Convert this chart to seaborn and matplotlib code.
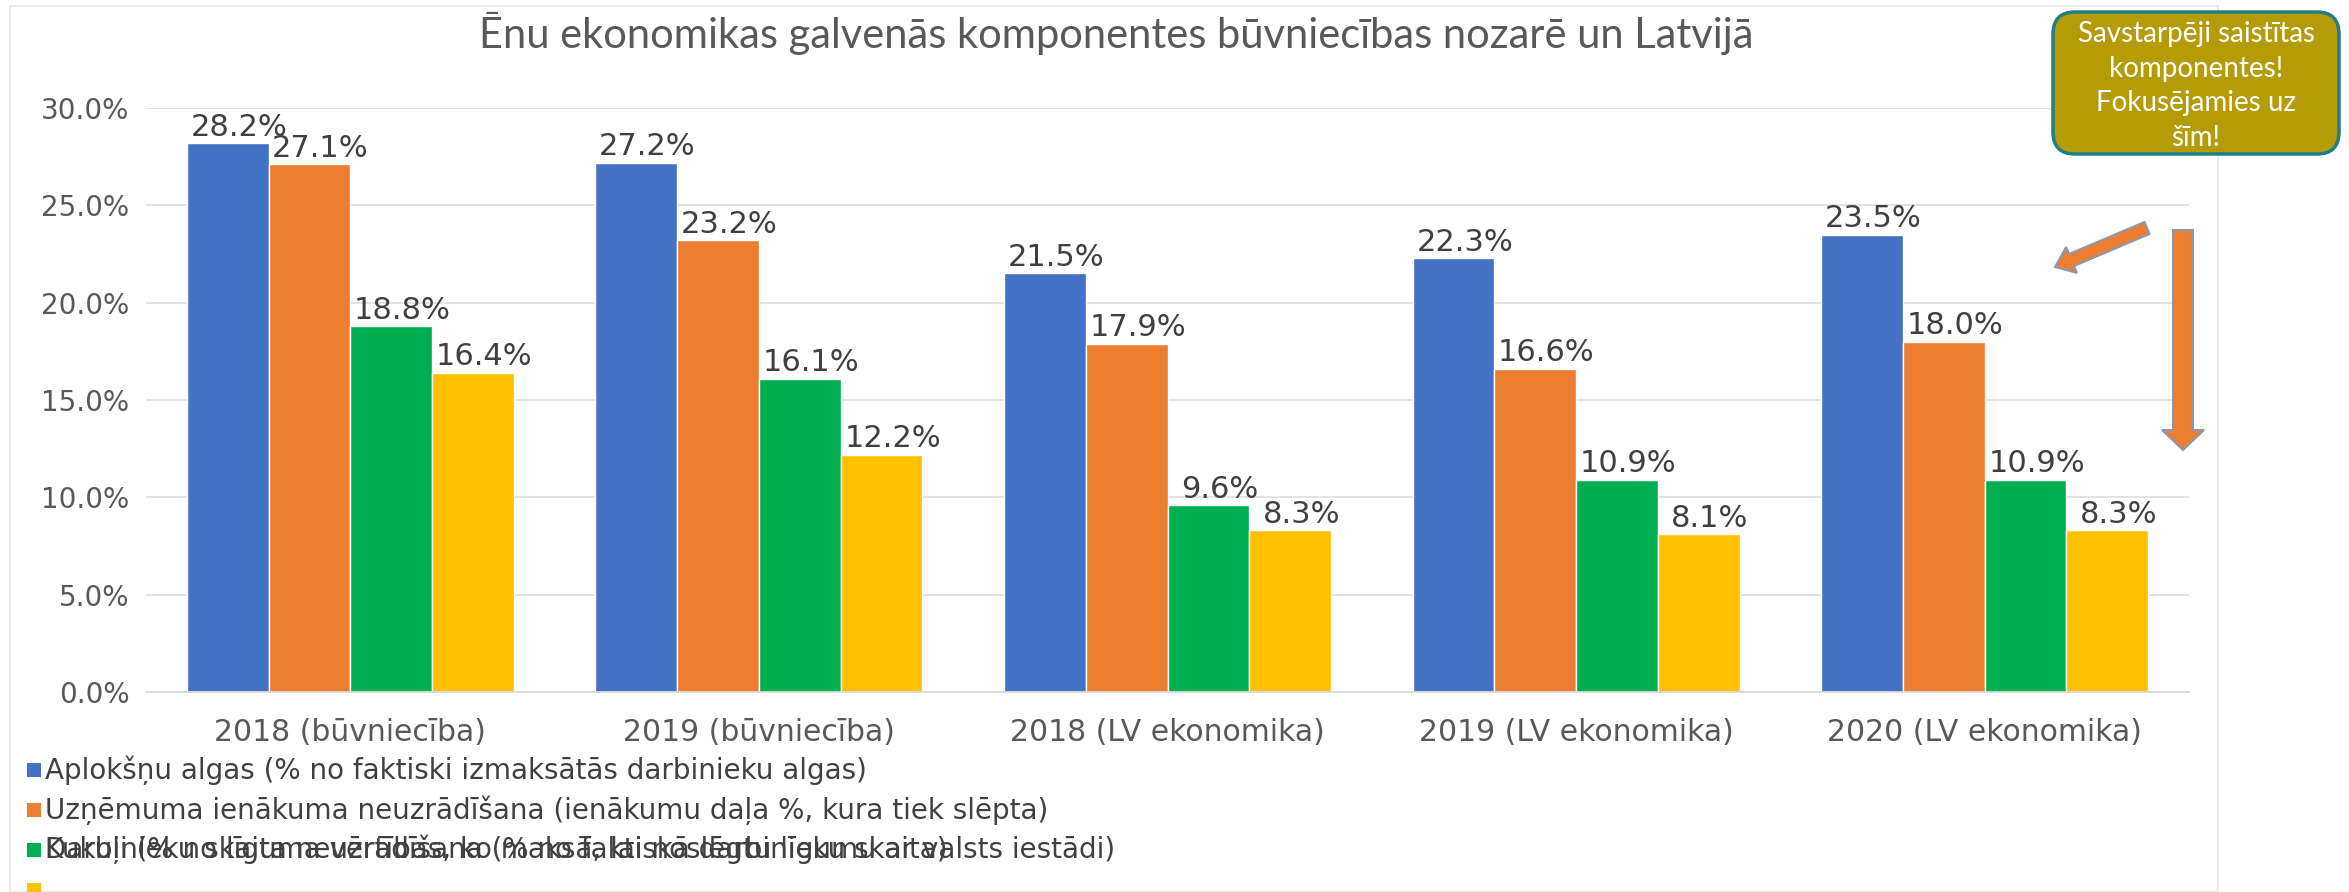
import matplotlib
matplotlib.use("Agg")
import matplotlib.pyplot as plt
import seaborn as sns
import pandas as pd
from matplotlib.patches import FancyBboxPatch, FancyArrow, Rectangle
from matplotlib.ticker import FuncFormatter, MultipleLocator

# ---------------- data ----------------
categories = ["2018 (būvniecība)", "2019 (būvniecība)", "2018 (LV ekonomika)",
              "2019 (LV ekonomika)", "2020 (LV ekonomika)"]
series_names = [
    "Aplokšņu algas (% no faktiski izmaksātās darbinieku algas)",
    "Uzņēmuma ienākuma neuzrādīšana (ienākumu daļa %, kura tiek slēpta)",
    "Darbinieku skaita neuzrādīšana (% no faktiskā darbinieku skaita)",
    "Kukuļi (% no līguma vērtības, ko maksā, lai noslēgtu līgumu ar valsts iestādi)",
]
envelope_wages = [28.2, 27.2, 21.5, 22.3, 23.5]
income_underreporting = [27.1, 23.2, 17.9, 16.6, 18.0]
employees_underreporting = [18.8, 16.1, 9.6, 10.9, 10.9]
fourth_component = [16.4, 12.2, 8.3, 8.1, 8.3]
colors = ["#4472C4", "#ED7D31", "#00B050", "#FFC000"]
title = "Ēnu ekonomikas galvenās komponentes būvniecības nozarē un Latvijā"
note_text = "Savstarpēji saistītas\nkomponentes!\nFokusējamies uz\nšīm!"

rows = []
for vals, name in zip([envelope_wages, income_underreporting,
                       employees_underreporting, fourth_component], series_names):
    for c, v in zip(categories, vals):
        rows.append({"Kategorija": c, "Komponente": name, "Vērtība": v})
df = pd.DataFrame(rows)

# ---------------- style ----------------
sns.set_theme(style="white")
plt.rcParams["font.family"] = ["DejaVu Sans"]

W, H = 2349, 892
fig = plt.figure(figsize=(W / 100, H / 100), dpi=100)
ax = fig.add_axes([146 / W, 1 - 692 / H, (2189 - 146) / W, (692 - 108) / H])

sns.barplot(data=df, x="Kategorija", y="Vērtība", hue="Komponente",
            hue_order=series_names, palette=colors, order=categories,
            width=0.8, gap=0, saturation=1, legend=False, ax=ax)

ax.set_ylim(0, 30)
ax.yaxis.set_major_locator(MultipleLocator(5))
ax.yaxis.set_major_formatter(FuncFormatter(lambda v, p: f"{v:.1f}%"))
ax.set_xlabel("")
ax.set_ylabel("")
ax.grid(axis="y", color="#E0E0E0", linewidth=1.3)
ax.set_axisbelow(True)
for s in ["top", "right", "left"]:
    ax.spines[s].set_visible(False)
ax.spines["bottom"].set_color("#D9D9D9")
ax.spines["bottom"].set_linewidth(1.3)
ax.tick_params(axis="y", length=0, pad=12, labelsize=20, labelcolor="#595959")
ax.tick_params(axis="x", length=0, pad=19, labelsize=21.5, labelcolor="#595959")

for cont in ax.containers:
    anns = ax.bar_label(cont, fmt="%.1f%%", fontsize=22, color="#404040", padding=1)
    for a in anns:
        a.xyann = (8, 1)

# title
fig.text(1116 / W, 1 - 33 / H, title, ha="center", va="center",
         fontsize=30, color="#595959", family=["Lato", "DejaVu Sans"])

# faint chart frame
fig.patches.append(Rectangle((10 / W, 0), (2218 - 10) / W, 1 - 6 / H,
                             transform=fig.transFigure, fill=False,
                             edgecolor="#EBEBEB", linewidth=1.5, zorder=0))

# manual legend (third and fourth labels overlap as in the reference)
legend_rows = [770, 810, 850, 890]
text_rows = [770, 810, 850, 850]
for i, name in enumerate(series_names):
    fig.patches.append(Rectangle((27 / W, 1 - (legend_rows[i] + 7) / H), 14 / W, 14 / H,
                                 transform=fig.transFigure, facecolor=colors[i],
                                 edgecolor="none"))
    fig.text(45 / W, 1 - text_rows[i] / H, name, ha="left", va="center",
             fontsize=20, color="#404040")

# note box
inch = fig.dpi_scale_trans
box = FancyBboxPatch((20.53, 7.38), 2.86, 1.42,
                     boxstyle="round,pad=0,rounding_size=0.22",
                     transform=inch, facecolor="#B59B06", edgecolor="#1E7F86",
                     linewidth=2.5, zorder=5)
fig.patches.append(box)
fig.text(21.96, 8.06, note_text, transform=inch, ha="center", va="center",
         fontsize=20, color="white", linespacing=1.42, zorder=6,
         family=["Lato", "DejaVu Sans"])

# arrows
fig.patches.append(FancyArrow(21.83, 6.62, 0, -2.2, width=0.2, head_width=0.42,
                              head_length=0.2, length_includes_head=True,
                              transform=inch, facecolor="#ED7D31",
                              edgecolor="#8A98B0", linewidth=1.5, zorder=5))
fig.patches.append(FancyArrow(21.47, 6.64, -0.92, -0.39, width=0.13, head_width=0.28,
                              head_length=0.18, length_includes_head=True,
                              transform=inch, facecolor="#ED7D31",
                              edgecolor="#8A98B0", linewidth=1.5, zorder=5))

fig.savefig("out.png", dpi=100)
